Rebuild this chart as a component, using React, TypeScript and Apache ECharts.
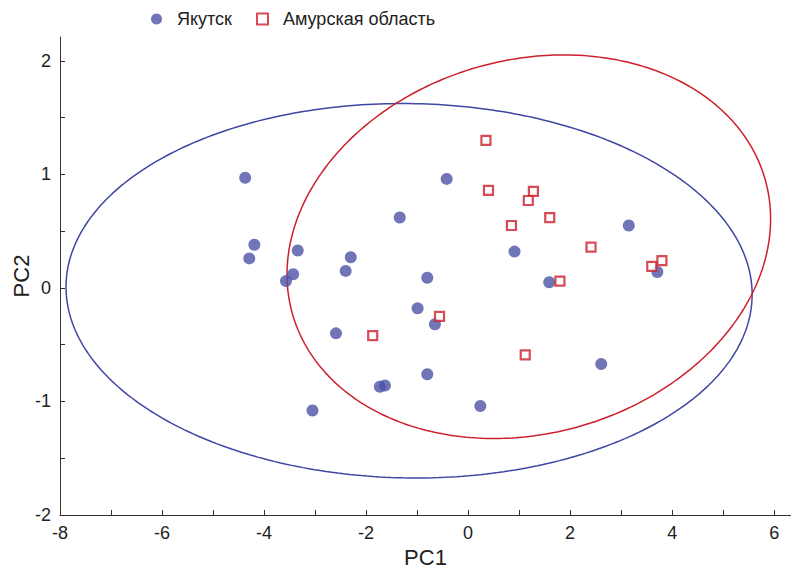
import React, { useEffect, useRef } from "react";
import * as echarts from "echarts";

// Series names (legend)
const seriesNames = ["Якутск", "Амурская область"];

// Якутск points [PC1, PC2]
const yakutsk: [number, number][] = [
  [-4.37, 0.97],
  [-4.19, 0.38],
  [-4.29, 0.26],
  [-3.34, 0.33],
  [-3.43, 0.12],
  [-3.57, 0.06],
  [-2.3, 0.27],
  [-2.4, 0.15],
  [-2.59, -0.4],
  [-1.73, -0.87],
  [-1.63, -0.86],
  [-3.05, -1.08],
  [-1.34, 0.62],
  [-0.42, 0.96],
  [0.91, 0.32],
  [3.15, 0.55],
  [3.71, 0.14],
  [-0.8, 0.09],
  [1.59, 0.05],
  [-0.99, -0.18],
  [-0.65, -0.32],
  [2.61, -0.67],
  [-0.8, -0.76],
  [0.24, -1.04],
];

// Амурская область points [PC1, PC2]
const amur: [number, number][] = [
  [0.35, 1.3],
  [0.4, 0.86],
  [1.28, 0.85],
  [1.18, 0.77],
  [1.6, 0.62],
  [0.85, 0.55],
  [2.41, 0.36],
  [3.6, 0.19],
  [3.8, 0.24],
  [1.8, 0.06],
  [-0.56, -0.25],
  [1.12, -0.59],
  [-1.87, -0.42],
];

// Confidence ellipses: centre, half-extents along PC1/PC2, correlation
const yakutskEllipse = { cx: -1.157, cy: -0.025, rx: 6.725, ry: 1.649, rho: -0.02 };
const amurEllipse = { cx: 1.19, cy: 0.363, rx: 4.74, ry: 1.689, rho: 0.145 };

// Axis ranges
const xRange = [-8, 6.33];
const yRange = [-2, 2.21];

const BLUE = "#4C53A6";
const BLUE_LINE = "#3F47A3";
const RED = "#CC1F2B";

function ellipsePoints(e: { cx: number; cy: number; rx: number; ry: number; rho: number }) {
  const pts: [number, number][] = [];
  const n = 360;
  const s = Math.sqrt(1 - e.rho * e.rho);
  for (let i = 0; i <= n; i++) {
    const t = (2 * Math.PI * i) / n;
    pts.push([
      e.cx + e.rx * Math.cos(t),
      e.cy + e.ry * (e.rho * Math.cos(t) + s * Math.sin(t)),
    ]);
  }
  return pts;
}

const NARROW = "'Liberation Sans Narrow', 'Arial Narrow', 'Liberation Sans', Arial, sans-serif";
const SANS = "'Liberation Sans', Arial, sans-serif";

export default function App() {
  const ref = useRef<HTMLDivElement>(null);
  useEffect(() => {
    if (!ref.current) return;
    const chart = echarts.init(ref.current, undefined, { renderer: "svg" });
    const axisCommon = {
      type: "value" as const,
      axisLine: { show: true, onZero: false, lineStyle: { color: "#333", width: 1 } },
      axisTick: { show: true, inside: true, length: 5, lineStyle: { color: "#333", width: 1 } },
      splitLine: { show: false },
      nameLocation: "middle" as const,
    };
    chart.setOption({
      animation: false,
      backgroundColor: "#fff",
      grid: { left: 60, right: 0, top: 37, bottom: 56, containLabel: false, outerBoundsMode: "none" },
      legend: {
        data: [
          { name: seriesNames[0], icon: "circle" },
          { name: seriesNames[1], icon: "rect" },
        ],
        left: 151,
        top: 10,
        padding: 0,
        itemWidth: 11,
        itemHeight: 11,
        itemGap: 24,
        textStyle: { fontFamily: SANS, fontSize: 18, color: "#222", padding: [0, 0, 0, 10] },
      },
      xAxis: {
        ...axisCommon,
        min: xRange[0],
        max: xRange[1],
        interval: 1,
        axisLabel: {
          formatter: (v: number) => (Math.abs(v % 2) < 1e-9 ? String(v) : ""),
          showMaxLabel: false,
          margin: 9,
          fontSize: 18,
          fontFamily: NARROW,
          color: "#222",
        },
        name: "PC1",
        nameGap: 31,
        nameTextStyle: { fontSize: 22, fontFamily: NARROW, color: "#222" },
      },
      yAxis: {
        ...axisCommon,
        min: yRange[0],
        max: yRange[1],
        interval: 0.5,
        axisLabel: {
          formatter: (v: number) => (Math.abs(v - Math.round(v)) < 1e-9 ? String(v) : ""),
          showMaxLabel: false,
          margin: 9,
          fontSize: 18,
          fontFamily: NARROW,
          color: "#222",
        },
        name: "PC2",
        nameGap: 28,
        nameMoveOverlap: false,
        nameTextStyle: { fontSize: 22, fontFamily: NARROW, color: "#222" },
      },
      series: [
        {
          name: "ellipse-yakutsk",
          type: "line",
          data: ellipsePoints(yakutskEllipse),
          showSymbol: false,
          symbol: "none",
          silent: true,
          lineStyle: { color: BLUE_LINE, width: 1.5 },
          z: 1,
        },
        {
          name: "ellipse-amur",
          type: "line",
          data: ellipsePoints(amurEllipse),
          showSymbol: false,
          symbol: "none",
          silent: true,
          lineStyle: { color: RED, width: 1.5 },
          z: 1,
        },
        {
          name: seriesNames[0],
          type: "scatter",
          data: yakutsk,
          symbol: "circle",
          symbolSize: 12,
          itemStyle: { color: BLUE },
          z: 3,
        },
        {
          name: seriesNames[1],
          type: "scatter",
          data: amur,
          symbol: "rect",
          symbolSize: 9,
          itemStyle: { color: "#fff", borderColor: RED, borderWidth: 2.2 },
          z: 4,
        },
      ],
    });
    return () => chart.dispose();
  }, []);
  return (
    <div
      ref={ref}
      style={{ position: "fixed", left: 0, top: 0, width: 791, height: 571, background: "#fff" }}
    />
  );
}
